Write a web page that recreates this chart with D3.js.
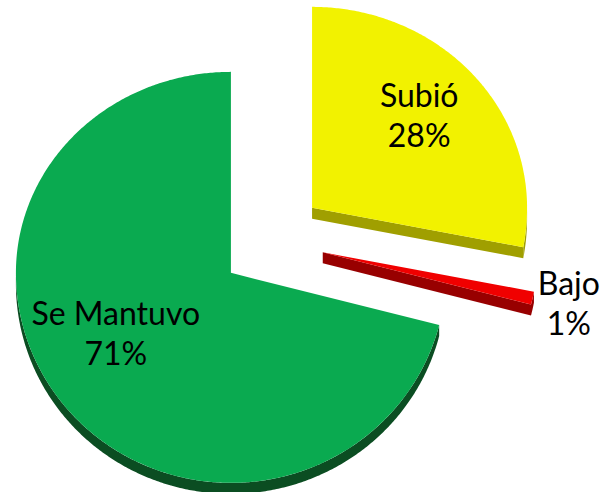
<!DOCTYPE html>
<html lang="es">
<head>
  <meta charset="UTF-8">
  <title>Pie 3D</title>
  <script src="https://d3js.org/d3.v7.min.js"></script>
  <style>
    body { margin: 0; padding: 0; background: #fff; }
    text { font-family: Lato, "Open Sans", sans-serif; font-size: 32px; fill: #000; }
  </style>
</head>
<body>
<script>
  // data
  const categories = ["Subió", "Bajo", "Se Mantuvo"]
  const values = [28, 1, 71]
  const percentLabels = ["28%", "1%", "71%"]

  // styles
  const topColors = ["#f2f200", "#f00000", "#0aaa50"]
  const sideColors = ["#a09f00", "#980000", "#0b4d22"]
  // label placement: angle (deg, clockwise from top) and radius fraction
  const labelAngle = [47.3, 102, 241.7]
  const labelRadius = [0.678, 1.17, 0.608]

  const width = 600
  const height = 492
  const cx = 272, cy = 241
  const rx = 215, ryBack = 201, ryFront = 210
  const explode = 52
  const depth = 11

  const svg = d3.select("body").append("svg")
    .attr("width", width)
    .attr("height", height)

  const pie = d3.pie().sort(null).value(d => d)
  const arcs = pie(values)

  const proj = (a, ox, oy, k = 1) => {
    const c = Math.cos(a)
    const ry = c > 0 ? ryBack : ryFront
    return [ox + k * rx * Math.sin(a), oy - k * ry * c]
  }

  const arcPoints = (a0, a1, ox, oy) => {
    const n = Math.max(2, Math.ceil((a1 - a0) / (Math.PI / 360)))
    return d3.range(n + 1).map(i => proj(a0 + (a1 - a0) * i / n, ox, oy))
  }

  const line = d3.line()

  arcs.forEach((d, i) => {
    const mid = (d.startAngle + d.endAngle) / 2
    const ox = cx + explode * Math.sin(mid)
    const oy = cy - explode * Math.cos(mid)
    const g = svg.append("g")

    // radial side at the end edge
    if (Math.sin(d.endAngle) > 1e-6) {
      const p = proj(d.endAngle, ox, oy)
      g.append("path")
        .attr("fill", sideColors[i])
        .attr("d", line([[ox, oy], p, [p[0], p[1] + depth], [ox, oy + depth]]) + "Z")
    }
    // radial side at the start edge
    if (Math.sin(d.startAngle) < -1e-6) {
      const p = proj(d.startAngle, ox, oy)
      g.append("path")
        .attr("fill", sideColors[i])
        .attr("d", line([[ox, oy], p, [p[0], p[1] + depth], [ox, oy + depth]]) + "Z")
    }

    // outer wall (front half only)
    const lo = Math.max(d.startAngle, Math.PI / 2)
    const hi = Math.min(d.endAngle, Math.PI * 1.5)
    if (lo < hi) {
      const pts = arcPoints(lo, hi, ox, oy)
      const lower = pts.map(p => [p[0], p[1] + depth]).reverse()
      g.append("path")
        .attr("fill", sideColors[i])
        .attr("d", line(pts.concat(lower)) + "Z")
    }

    // top face
    const top = [[ox, oy]].concat(arcPoints(d.startAngle, d.endAngle, ox, oy))
    g.append("path")
      .attr("fill", topColors[i])
      .attr("d", line(top) + "Z")

    // label
    const [lx, ly] = proj(labelAngle[i] * Math.PI / 180, ox, oy, labelRadius[i])
    const t = svg.append("text")
      .attr("text-anchor", "middle")
      .attr("x", lx)
      .attr("y", ly - 8)
    t.append("tspan").attr("x", lx).text(categories[i])
    t.append("tspan").attr("x", lx).attr("dy", 40).text(percentLabels[i])
  })
</script>
</body>
</html>
